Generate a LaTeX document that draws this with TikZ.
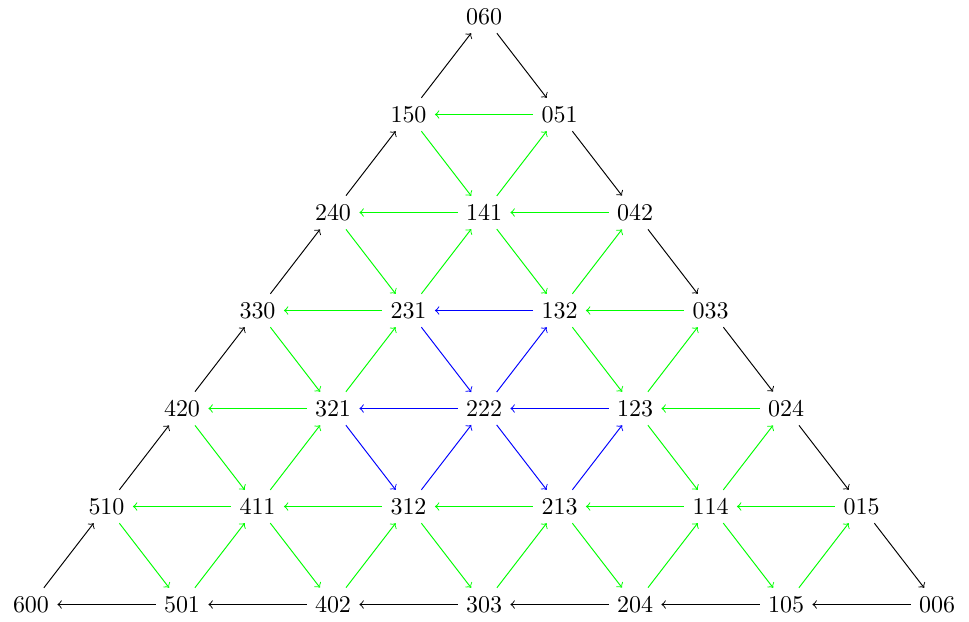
\documentclass[tikz,border=0pt]{standalone}
\usepackage{tikz}

\tikzset{
	bk/.style={->,black},
	gr/.style={->,green},
	bl/.style={->,blue}
}

\begin{document}
\begin{tikzpicture}[x=1.10608cm,y=1.4357cm]
	\useasboundingbox (-6.4106,-0.16837) rectangle (6.4238,6.16837);
	
	% the points abc with a+b+c=6
	\foreach \a in {0,...,6}{
		\pgfmathtruncatemacro\bmax{6-\a}
		\foreach \b in {0,...,\bmax}{
			\pgfmathtruncatemacro\c{6-\a-\b}
			\node (n\a\b\c) at (\c-\a,\b) {\a\b\c};
		}
	}
	
	% border
	\foreach \s/\t in {006/105,105/204,204/303,303/402,402/501,501/600,
		600/510,510/420,420/330,330/240,240/150,150/060,
		060/051,051/042,042/033,033/024,024/015,015/006}
		\draw[bk] (n\s) -- (n\t);
	
	% inside
	\foreach \s/\t in {015/114,114/213,213/312,312/411,411/510,
		024/123,321/420,033/132,231/330,042/141,141/240,051/150,
		501/411,402/312,303/213,204/114,105/015,
		411/321,114/024,321/231,123/033,231/141,132/042,141/051,
		510/501,411/402,312/303,213/204,114/105,
		420/411,123/114,330/321,132/123,240/231,141/132,150/141}
		\draw[gr] (n\s) -- (n\t);
	
	% around 222
	\foreach \s/\t in {231/222,222/132,132/231,321/312,312/222,222/321,
		222/213,213/123,123/222}
		\draw[bl] (n\s) -- (n\t);
\end{tikzpicture}
\end{document}
